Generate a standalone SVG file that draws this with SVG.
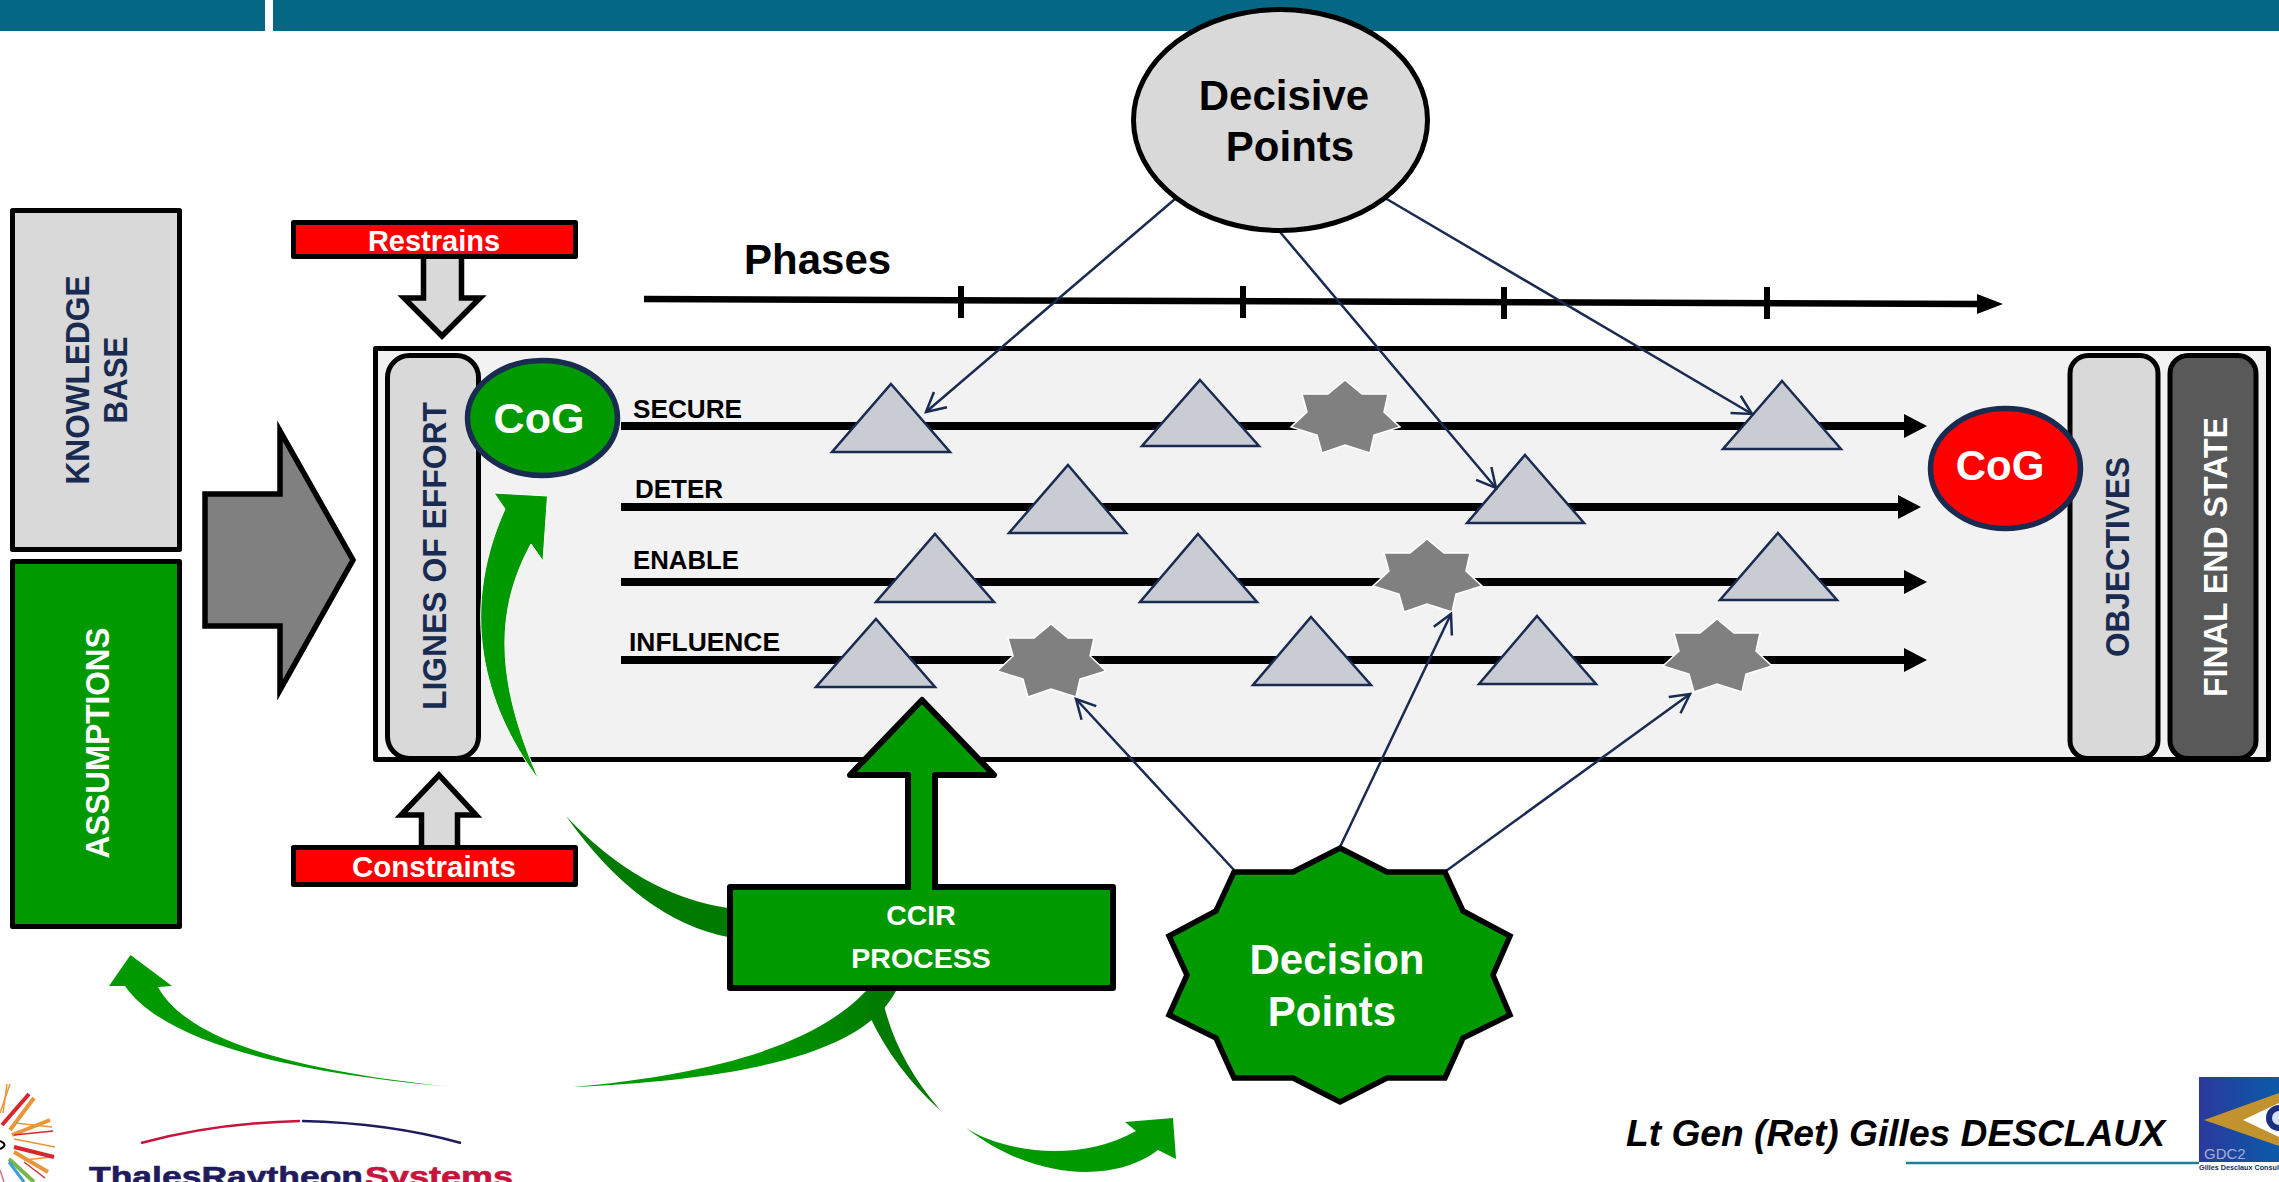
<svg xmlns="http://www.w3.org/2000/svg" xmlns:xlink="http://www.w3.org/1999/xlink" width="2279" height="1182" viewBox="0 0 2279 1182">
<style>
text{font-family:"Liberation Sans",Arial,sans-serif;font-weight:bold}
.box{stroke:#000;stroke-width:5;stroke-linejoin:round}
.sharp{stroke:#000;stroke-width:5.5;stroke-linejoin:miter;stroke-miterlimit:8}
.tab{stroke:#000;stroke-width:6}
.g{fill:#009900}
.r{fill:#ff0000}
.lg{fill:#d9d9d9}
.tri{fill:#c9ccd2;stroke:#1a2b52;stroke-width:2.5;stroke-linejoin:miter}
.wh{fill:#fff}
.nv{fill:#1a2b52}
.k{fill:#000}
.m{text-anchor:middle}
.loe{stroke:#000;stroke-width:8;fill:none;marker-end:url(#loeHead)}
.link{stroke:#1a2b52;stroke-width:2.5;fill:none;marker-end:url(#openHead)}
.cog{stroke:#1a2b52;stroke-width:5.5}
.st{fill:#808080;stroke:#fff;stroke-width:1.5}
.burst{fill:none;stroke-linecap:butt}
</style>
<defs>
<marker id="loeHead" markerUnits="userSpaceOnUse" markerWidth="26" markerHeight="26" viewBox="0 -13 26 26" refX="0" refY="0" orient="auto"><path d="M0,-12L23,0L0,12z" fill="#000"/></marker>
<marker id="phaseHead" markerUnits="userSpaceOnUse" markerWidth="28" markerHeight="24" viewBox="0 -12 28 24" refX="0" refY="0" orient="auto"><path d="M0,-10L26,0L0,10z" fill="#000"/></marker>
<marker id="openHead" markerUnits="userSpaceOnUse" markerWidth="28" markerHeight="28" viewBox="-24 -14 28 28" refX="0" refY="0" orient="auto"><path d="M-19,-10L0,0L-19,10" fill="none" stroke="#1a2b52" stroke-width="2.5"/></marker>
<polygon id="star" class="st" points="0,-36 17,-22 43,-22 39,-4 55,11 29,19 25,37 0,29 -23,37 -28,19 -54,11 -38,-4 -43,-22 -17,-22"/>
<linearGradient id="fadeA" gradientUnits="userSpaceOnUse" x1="880" y1="995" x2="760" y2="1070"><stop offset="0" stop-color="#007a00"/><stop offset="1" stop-color="#009900"/></linearGradient>
<linearGradient id="gdc" x1="0" y1="0" x2="1" y2="0"><stop offset="0" stop-color="#2b3a9c"/><stop offset="1" stop-color="#0a5aa8"/></linearGradient>
</defs>
<rect width="2279" height="1182" fill="#fff"/>
<g id="header"><rect x="0" y="0" width="265" height="31" fill="#046783"/><rect x="273" y="0" width="2006" height="31" fill="#046783"/></g>

<g id="knowledge-base"><rect class="box lg" x="12.5" y="210.5" width="167" height="339"/>
<text class="nv m" font-size="33" transform="translate(89,380) rotate(-90)" textLength="209" lengthAdjust="spacingAndGlyphs">KNOWLEDGE</text>
<text class="nv m" font-size="33" transform="translate(127,380) rotate(-90)" textLength="87" lengthAdjust="spacingAndGlyphs">BASE</text></g>
<g id="assumptions"><rect class="box g" x="12.5" y="561.5" width="167" height="365"/>
<text class="wh m" font-size="33" transform="translate(109,743) rotate(-90)" textLength="231" lengthAdjust="spacingAndGlyphs">ASSUMPTIONS</text></g>
<g id="flow-arrow"><polygon class="sharp" fill="#808080" points="205,494 280,494 280,431 353,560 280,690 280,626 205,626"/></g>

<g id="restrains"><polygon class="sharp lg" points="423.5,255 461.5,255 461.5,298 480,298 442,336 404,298 423.5,298" /><rect class="box r" x="293.5" y="222.5" width="282" height="34"/>
<text class="wh m" x="434" y="251" font-size="29">Restrains</text></g>
<g id="constraints"><polygon class="sharp lg" points="421.5,848 457.5,848 457.5,815 476,815 439,775 401,815 421.5,815"/><rect class="box r" x="293.5" y="847.5" width="282" height="37"/>
<text class="wh m" x="434" y="877" font-size="29.5">Constraints</text></g>

<g id="campaign-frame"><rect class="box" fill="#f2f2f2" x="375.5" y="348.5" width="1893" height="411"/></g>
<g id="lignes-of-effort"><rect class="box lg" x="387.5" y="355.5" width="91" height="403" rx="22"/>
<text class="nv m" font-size="33" transform="translate(446,556) rotate(-90)" textLength="308" lengthAdjust="spacingAndGlyphs">LIGNES OF EFFORT</text></g>
<g id="objectives"><rect class="box lg" x="2070" y="355.5" width="88" height="403" rx="18"/>
<text class="nv m" font-size="34" transform="translate(2129,557) rotate(-90)" textLength="200" lengthAdjust="spacingAndGlyphs">OBJECTIVES</text></g>
<g id="final-end-state"><rect class="box" fill="#595959" x="2170" y="355.5" width="86" height="403" rx="18"/>
<text class="wh m" font-size="34" transform="translate(2227,557) rotate(-90)" textLength="280" lengthAdjust="spacingAndGlyphs">FINAL END STATE</text></g>

<g id="phases"><text class="k" x="744" y="274" font-size="42">Phases</text>
<line x1="644" y1="299" x2="1977" y2="304" stroke="#000" stroke-width="6.5" marker-end="url(#phaseHead)"/>
<g stroke="#000" stroke-width="6"><line x1="961" y1="286" x2="961" y2="318"/><line x1="1243" y1="286" x2="1243" y2="318"/><line x1="1504" y1="287" x2="1504" y2="319"/><line x1="1767" y1="287" x2="1767" y2="319"/></g></g>

<g id="connectors">
<line class="loe" x1="621" y1="426" x2="1904" y2="426"/>
<line class="loe" x1="621" y1="507" x2="1898" y2="507"/>
<line class="loe" x1="621" y1="582" x2="1904" y2="582"/>
<line class="loe" x1="621" y1="660" x2="1904" y2="660"/>
</g>
<g id="line-labels">
<text class="k" x="633" y="418" font-size="26" textLength="109" lengthAdjust="spacingAndGlyphs">SECURE</text>
<text class="k" x="635" y="498" font-size="26" textLength="88" lengthAdjust="spacingAndGlyphs">DETER</text>
<text class="k" x="633" y="569" font-size="26" textLength="106" lengthAdjust="spacingAndGlyphs">ENABLE</text>
<text class="k" x="629" y="651" font-size="26" textLength="151" lengthAdjust="spacingAndGlyphs">INFLUENCE</text>
</g>
<g id="triangles">
<polygon class="tri" points="891,384 950,452 832,452"/>
<polygon class="tri" points="1200,380 1259,446 1142,446"/>
<polygon class="tri" points="1782,381 1841,449 1723,449"/>
<polygon class="tri" points="1068,465 1126,533 1009,533"/>
<polygon class="tri" points="1525,455 1584,523 1467,523"/>
<polygon class="tri" points="935,534 994,602 876,602"/>
<polygon class="tri" points="1198,534 1257,602 1140,602"/>
<polygon class="tri" points="1778,533 1837,600 1720,600"/>
<polygon class="tri" points="876,619 935,687 816,687"/>
<polygon class="tri" points="1311,617 1371,685 1253,685"/>
<polygon class="tri" points="1537,616 1596,684 1479,684"/>
</g>
<g id="stars">
<use xlink:href="#star" href="#star" x="1345" y="416"/>
<use xlink:href="#star" href="#star" x="1427" y="575"/>
<use xlink:href="#star" href="#star" x="1717" y="655"/>
<use xlink:href="#star" href="#star" x="1051" y="660"/>
</g>
<g id="cog-left"><ellipse class="cog g" cx="542.5" cy="418" rx="75" ry="57.5"/>
<text class="wh m" x="539" y="433" font-size="43">CoG</text></g>
<g id="cog-right"><ellipse class="cog r" cx="2005.5" cy="468.5" rx="75" ry="60"/>
<text class="wh m" x="2000" y="480" font-size="42">CoG</text></g>

<g id="curved-arrows">
<path d="M539,780 C490,715 455,620 505,509 L494,493 L547.5,496 L543,561 L531,544 C495,610 495,680 539,780Z" fill="#009900" stroke="#fff" stroke-width="1"/>
<path d="M566,816 Q640,895 728,908 L728,937 Q640,920 566,816Z" fill="#007a00"/>
<path d="M451,1087 C320,1075 170,1050 125,986 L109,986 L130.5,955 L172,986 L158,987 C190,1045 310,1072 451,1087Z" fill="#009900"/>
<path d="M573,1087 C700,1075 810,1050 866,991 L896,991 C860,1060 720,1080 573,1087Z" fill="url(#fadeA)"/>
<path d="M884,1005 Q897,1060 941,1111 Q895,1070 870,1017Z" fill="#007a00"/>
<path d="M966,1128 C1000,1150 1075,1165 1136,1131 L1125,1122 L1173,1118 L1176,1159 L1158,1150 C1120,1180 1040,1185 966,1128Z" fill="#009900"/>
</g>

<g id="ccir-process"><rect class="tab g" x="730" y="887" width="383" height="101" stroke-linejoin="round"/>
<polygon class="tab g" stroke-linejoin="round" points="908,887 908,775 850,775 922,700 994,775 935,775 935,887"/>
<rect class="g" x="911" y="880" width="21" height="12"/>
<text class="wh m" x="921" y="925" font-size="28.5">CCIR</text>
<text class="wh m" x="921" y="968" font-size="28.5">PROCESS</text></g>

<g id="decisive-links">
<line class="link" x1="1175" y1="199" x2="926" y2="412"/>
<line class="link" x1="1280" y1="232" x2="1496" y2="488"/>
<line class="link" x1="1385" y1="198" x2="1752" y2="414"/>
<line class="link" x1="1234" y1="870" x2="1076" y2="699"/>
<line class="link" x1="1340" y1="847" x2="1451" y2="614"/>
<line class="link" x1="1446" y1="871" x2="1690" y2="694"/>
</g>

<g id="decisive-points"><ellipse class="box lg" cx="1280.5" cy="120" rx="147" ry="110.5"/>
<text class="k m" x="1284" y="110" font-size="42">Decisive</text>
<text class="k m" x="1290" y="161" font-size="42">Points</text></g>
<g id="decision-points"><polygon class="sharp g" points="1340,848 1387,872 1445,872 1463,911 1510,936 1493,975 1510,1015 1463,1038 1445,1078 1387,1078 1340,1102 1293,1078 1234,1078 1216,1038 1169,1015 1187,975 1169,936 1216,911 1234,872 1293,872"/>
<text class="wh m" x="1337" y="974" font-size="42">Decision</text>
<text class="wh m" x="1332" y="1026" font-size="42">Points</text></g>

<g id="signature"><text class="k" x="1626" y="1146" font-size="37" font-style="italic" textLength="539" lengthAdjust="spacingAndGlyphs">Lt Gen (Ret) Gilles DESCLAUX</text>
<line x1="1906" y1="1163" x2="2199" y2="1163" stroke="#1d7f96" stroke-width="2.5"/></g>

<g id="logo-thales">
<path d="M141,1143 Q215,1123 300,1121" fill="none" stroke="#c8143c" stroke-width="2.5"/>
<path d="M302,1121 Q390,1123 461,1143" fill="none" stroke="#1f1b5c" stroke-width="2.5"/>
<text x="89" y="1186" font-size="28" fill="#1f1b5c" stroke="#1f1b5c" stroke-width="0.6" textLength="274" lengthAdjust="spacingAndGlyphs">ThalesRaytheon</text>
<text x="365" y="1186" font-size="28" fill="#c8143c" stroke="#c8143c" stroke-width="0.6" textLength="148" lengthAdjust="spacingAndGlyphs">Systems</text>
</g>
<g id="logo-burst" class="burst">
<g stroke="#e8963a" stroke-width="1.5"><line x1="0" y1="1113" x2="10" y2="1084"/><line x1="3" y1="1113" x2="7" y2="1084"/><line x1="15" y1="1123" x2="52" y2="1127"/><line x1="14" y1="1139" x2="55" y2="1147"/><line x1="24" y1="1160" x2="52" y2="1157"/></g>
<line x1="2" y1="1125" x2="29" y2="1094" stroke="#d8262c" stroke-width="4"/>
<line x1="10" y1="1130" x2="34" y2="1098" stroke="#e8963a" stroke-width="4"/>
<line x1="12" y1="1135" x2="50" y2="1120" stroke="#e8963a" stroke-width="4"/>
<line x1="14" y1="1135" x2="53" y2="1131" stroke="#d8262c" stroke-width="1.5"/>
<line x1="14" y1="1147" x2="54" y2="1157" stroke="#d8262c" stroke-width="4"/>
<line x1="14" y1="1152" x2="48" y2="1172" stroke="#e8963a" stroke-width="4"/>
<line x1="24" y1="1162" x2="45" y2="1178" stroke="#c8343c" stroke-width="1.5"/>
<line x1="9" y1="1159" x2="34" y2="1182" stroke="#7ab648" stroke-width="4"/>
<line x1="9" y1="1162" x2="24" y2="1182" stroke="#3aa0d8" stroke-width="3"/>
<line x1="0" y1="1170" x2="4" y2="1182" stroke="#d87088" stroke-width="1.5"/>
<path d="M0,1141Q9,1145 0,1149" stroke="#000" stroke-width="2"/>
</g>
<g id="logo-gdc2">
<rect x="2199" y="1077" width="80" height="85" fill="url(#gdc)"/>
<polygon points="2204,1120 2279,1093 2279,1146" fill="#c2922e"/>
<polygon points="2243,1120 2279,1103 2279,1137" fill="#fff"/>
<circle cx="2279" cy="1118" r="13" fill="#1a2f80"/>
<circle cx="2279" cy="1118" r="7" fill="#d8e0f0"/>
<text x="2204" y="1159" font-size="15" fill="#a7aed6" style="font-weight:normal">GDC2</text>
<text x="2199" y="1170" font-size="8" fill="#1a2b52" textLength="80" lengthAdjust="spacingAndGlyphs">Gilles Desclaux Consul</text>
</g>
</svg>
